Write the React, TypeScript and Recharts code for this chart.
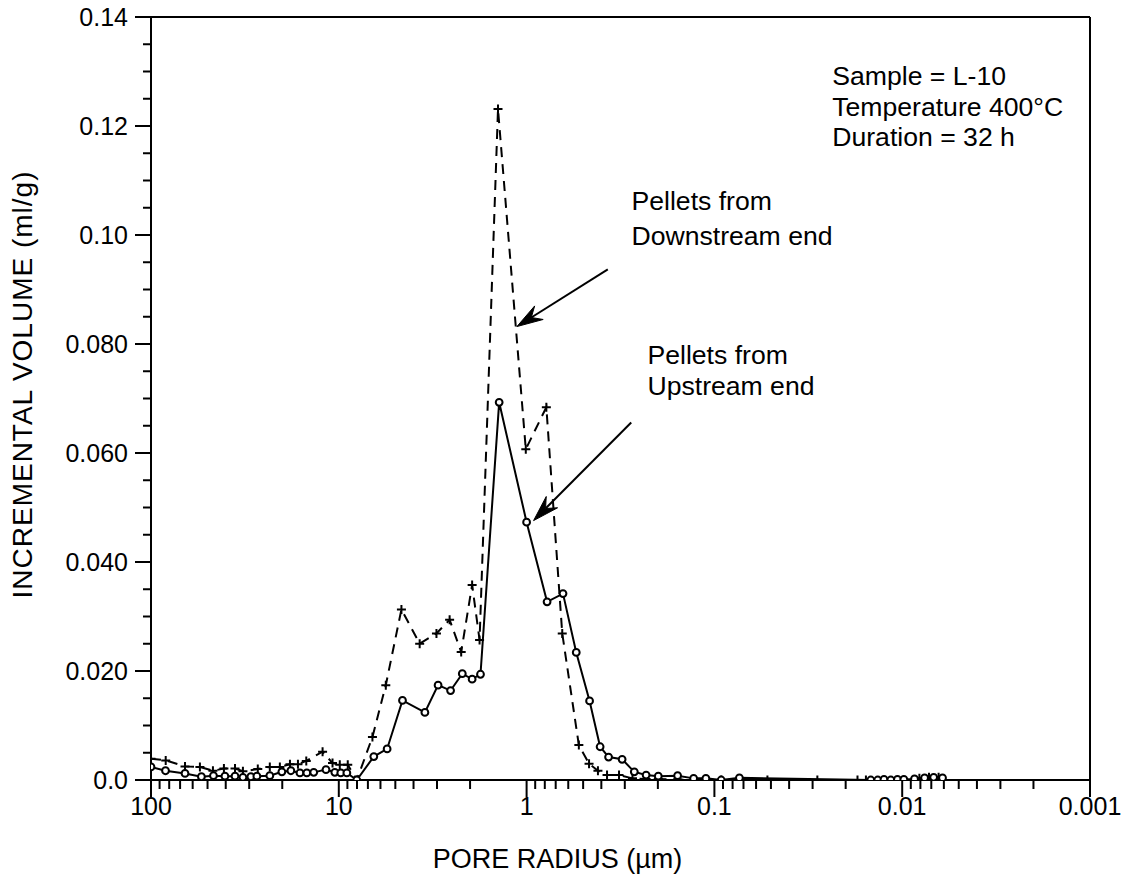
import React from "react";
import { LineChart, Line, XAxis, YAxis, ReferenceLine, ReferenceDot } from "recharts";

// Upstream-end pellets (solid line, open circles)
const solidRadius = [
  100, 83.7, 65.9, 53.9, 46.5, 40.4, 35.7, 32.4, 29.4, 27.3, 23.3, 20.1, 18.0, 16.1, 14.8, 13.6, 11.7, 10.5, 9.76, 9.06,
  8.02, 6.51, 5.53, 4.58, 3.48, 2.96, 2.54, 2.2, 1.95, 1.76, 1.4, 1.0, 0.778, 0.64, 0.544, 0.462, 0.406, 0.366, 0.31,
  0.267, 0.231, 0.199, 0.157, 0.129, 0.111, 0.092, 0.0736, 0.0147, 0.0135, 0.0125, 0.0115, 0.0106, 0.0098, 0.0086,
  0.0076, 0.0068, 0.0061,
];
const solidVolume = [
  0.0024, 0.0017, 0.0012, 0.0006, 0.0008, 0.0007, 0.0007, 0.0005, 0.0006, 0.0007, 0.0008, 0.0015, 0.0017, 0.0013, 0.0013,
  0.0014, 0.0019, 0.0014, 0.0013, 0.0013, 0.0, 0.0043, 0.0057, 0.0146, 0.0124, 0.0174, 0.0164, 0.0195, 0.0185, 0.0194,
  0.0693, 0.0473, 0.0327, 0.0342, 0.0234, 0.0145, 0.0061, 0.0042, 0.0038, 0.0015, 0.0009, 0.0007, 0.0008, 0.0003, 0.0003,
  0.0, 0.0004, 0.0, 0.0, 0.0001, 0.0, 0.0001, 0.0001, 0.0002, 0.0004, 0.0005, 0.0004,
];

// Downstream-end pellets (dashed line, plus markers)
const dashedRadius = [
  100, 83.5, 65.9, 54.9, 46.8, 40.9, 35.7, 32.4, 27.0, 23.3, 20.6, 18.2, 16.5, 14.9, 12.2, 10.8, 9.88, 8.96, 8.02, 6.62,
  5.62, 4.64, 3.71, 3.02, 2.57, 2.23, 1.95, 1.78, 1.42, 1.01, 0.785, 0.646, 0.527, 0.465, 0.417, 0.373, 0.322, 0.273,
  0.231, 0.199, 0.157, 0.129, 0.092, 0.0522, 0.0283, 0.0173, 0.0156, 0.0081, 0.0072, 0.0064,
];
const dashedVolume = [
  0.0039, 0.0036, 0.0025, 0.0024, 0.0017, 0.0021, 0.0021, 0.0016, 0.002, 0.0024, 0.0024, 0.0029, 0.0029, 0.0035, 0.0052,
  0.0031, 0.0028, 0.0028, 0.0, 0.0079, 0.0174, 0.0313, 0.025, 0.0269, 0.0294, 0.0235, 0.0358, 0.0257, 0.1231, 0.0607,
  0.0684, 0.0269, 0.0064, 0.003, 0.0017, 0.0009, 0.0009, 0.0003, 0.0002, 0.0002, 0.0001, 0.0, 0.0, 0.0, 0.0, 0.0, 0.0,
  0.0003, 0.0005, 0.0005,
];

const xMajorTicks = [100, 10, 1, 0.1, 0.01, 0.001];
const xTickLabels = ["100", "10", "1", "0.1", "0.01", "0.001"];
const yMajorTicks = [0, 0.02, 0.04, 0.06, 0.08, 0.1, 0.12, 0.14];
const yTickLabels = ["0.0", "0.020", "0.040", "0.060", "0.080", "0.10", "0.12", "0.14"];

const noteLines = ["Sample = L-10", "Temperature 400°C", "Duration = 32 h"];
const downLines = ["Pellets from", "Downstream end"];
const upLines = ["Pellets from", "Upstream end"];

const FONT = "'Liberation Sans', Arial, Helvetica, sans-serif";
const FS = 25;
const FS_NOTE = 26.6;

const solidData = solidRadius.map((r, i) => ({ r, v: solidVolume[i] }));
const dashedData = dashedRadius.map((r, i) => ({ r, v: dashedVolume[i] }));

const xTicks: number[] = [];
[0.001, 0.01, 0.1, 1, 10].forEach((d) => {
  for (let k = 1; k <= 9; k++) xTicks.push(Number((k * d).toPrecision(6)));
});
xTicks.push(100);

const yTicks: number[] = [];
for (let i = 0; i <= 28; i++) yTicks.push(Number((i * 0.005).toFixed(4)));

const XTick = (props: any) => {
  const { x, y, payload } = props;
  const idx = xMajorTicks.findIndex((m) => Math.abs(Math.log10(m) - Math.log10(payload.value)) < 1e-6);
  const major = idx >= 0;
  return (
    <g>
      <line x1={x} x2={x} y1={y} y2={y + (major ? 17 : 9)} stroke="#000" strokeWidth={2} />
      {major && (
        <text x={x} y={y + 35} textAnchor="middle" fontSize={FS} fontFamily={FONT} fill="#000">
          {xTickLabels[idx]}
        </text>
      )}
    </g>
  );
};

const YTick = (props: any) => {
  const { x, y, payload } = props;
  const idx = yMajorTicks.findIndex((m) => Math.abs(m - payload.value) < 1e-6);
  const major = idx >= 0;
  return (
    <g>
      <line x1={x - (major ? 16 : 8)} x2={x} y1={y} y2={y} stroke="#000" strokeWidth={2} />
      {major && (
        <text x={x - 23} y={y + 9} textAnchor="end" fontSize={FS} fontFamily={FONT} fill="#000">
          {yTickLabels[idx]}
        </text>
      )}
    </g>
  );
};

const Arrow = (p: any) => {
  const { x1, y1, x2, y2 } = p;
  const dx = x2 - x1;
  const dy = y2 - y1;
  const L = Math.hypot(dx, dy) || 1;
  const ux = dx / L;
  const uy = dy / L;
  const px = -uy;
  const py = ux;
  const hl = 26;
  const hw = 8;
  const notch = 17;
  const bx = x2 - ux * hl;
  const by = y2 - uy * hl;
  const nx = x2 - ux * notch;
  const ny = y2 - uy * notch;
  return (
    <g>
      <line x1={x1} y1={y1} x2={nx} y2={ny} stroke="#000" strokeWidth={2} />
      <polygon
        points={`${x2},${y2} ${bx + px * hw},${by + py * hw} ${nx},${ny} ${bx - px * hw},${by - py * hw}`}
        fill="#000"
        stroke="#000"
        strokeWidth={1}
      />
    </g>
  );
};

const textBlock = (lines: string[], gap: number) => (p: any) => (
  <text x={p.cx} y={p.cy} fontSize={FS_NOTE} fontFamily={FONT} fill="#000">
    {lines.map((t, i) => (
      <tspan key={i} x={p.cx} dy={i === 0 ? 0 : gap}>
        {t}
      </tspan>
    ))}
  </text>
);

const SolidDot = (p: any) => {
  if (p.cx == null || p.cy == null) return <g key={p.index} />;
  return <circle key={p.index} cx={p.cx} cy={p.cy} r={3.4} fill="#fff" stroke="#000" strokeWidth={2} />;
};

const PlusDot = (p: any) => {
  if (p.cx == null || p.cy == null) return <g key={p.index} />;
  const s = 4.5;
  return (
    <path
      key={p.index}
      d={`M${p.cx - s},${p.cy}H${p.cx + s}M${p.cx},${p.cy - s}V${p.cy + s}`}
      stroke="#000"
      strokeWidth={2}
      fill="none"
    />
  );
};

export default function App() {
  return (
    <div style={{ position: "absolute", left: 0, top: 0, background: "#fff" }}>
      <LineChart width={1127} height={888} margin={{ top: 17, right: 37, bottom: 0, left: 0 }}>
        <XAxis
          dataKey="r"
          type="number"
          scale="log"
          domain={[0.001, 100]}
          reversed
          ticks={xTicks}
          interval={0}
          tick={<XTick />}
          tickSize={0}
          tickMargin={0}
          tickLine={false}
          height={108}
          allowDataOverflow
          axisLine={{ stroke: "#000", strokeWidth: 2 }}
          label={{
            content: (p: any) => {
              const vb = p.viewBox || { x: 151, y: 780, width: 939 };
              return (
                <text
                  x={vb.x + vb.width / 2 - 63}
                  y={vb.y + 88}
                  textAnchor="middle"
                  fontSize={27}
                  fontFamily={FONT}
                  fill="#000"
                >
                  PORE RADIUS (µm)
                </text>
              );
            },
          }}
        />
        <YAxis
          type="number"
          domain={[0, 0.14]}
          ticks={yTicks}
          interval={0}
          tick={<YTick />}
          tickSize={0}
          tickMargin={0}
          tickLine={false}
          width={151}
          allowDataOverflow
          axisLine={{ stroke: "#000", strokeWidth: 2 }}
          label={{
            content: (p: any) => {
              const vb = p.viewBox || { x: 0, y: 17, width: 151, height: 763 };
              const cy = vb.y + vb.height / 2 - 14;
              return (
                <text
                  transform={`translate(32,${cy}) rotate(-90)`}
                  textAnchor="middle"
                  fontSize={28}
                  letterSpacing={1}
                  fontFamily={FONT}
                  fill="#000"
                >
                  INCREMENTAL VOLUME (ml/g)
                </text>
              );
            },
          }}
        />
        <ReferenceLine y={0.14} stroke="#000" strokeWidth={2} />
        <ReferenceLine x={0.001} stroke="#000" strokeWidth={2} />
        <Line
          data={dashedData}
          dataKey="v"
          stroke="#000"
          strokeWidth={2}
          strokeDasharray="10 7"
          dot={PlusDot}
          activeDot={false}
          isAnimationActive={false}
        />
        <Line
          data={solidData}
          dataKey="v"
          stroke="#000"
          strokeWidth={2}
          dot={SolidDot}
          activeDot={false}
          isAnimationActive={false}
        />
        <ReferenceLine
          segment={[
            { x: 0.3695, y: 0.0937 },
            { x: 1.126, y: 0.0832 },
          ]}
          shape={Arrow}
          ifOverflow="visible"
        />
        <ReferenceLine
          segment={[
            { x: 0.2773, y: 0.0656 },
            { x: 0.918, y: 0.0476 },
          ]}
          shape={Arrow}
          ifOverflow="visible"
        />
        <ReferenceDot x={0.2763} y={0.1046} r={0} shape={textBlock(downLines, 35)} ifOverflow="visible" />
        <ReferenceDot x={0.2272} y={0.0764} r={0} shape={textBlock(upLines, 31)} ifOverflow="visible" />
        <ReferenceDot x={0.02357} y={0.1275} r={0} shape={textBlock(noteLines, 30.5)} ifOverflow="visible" />
      </LineChart>
    </div>
  );
}
